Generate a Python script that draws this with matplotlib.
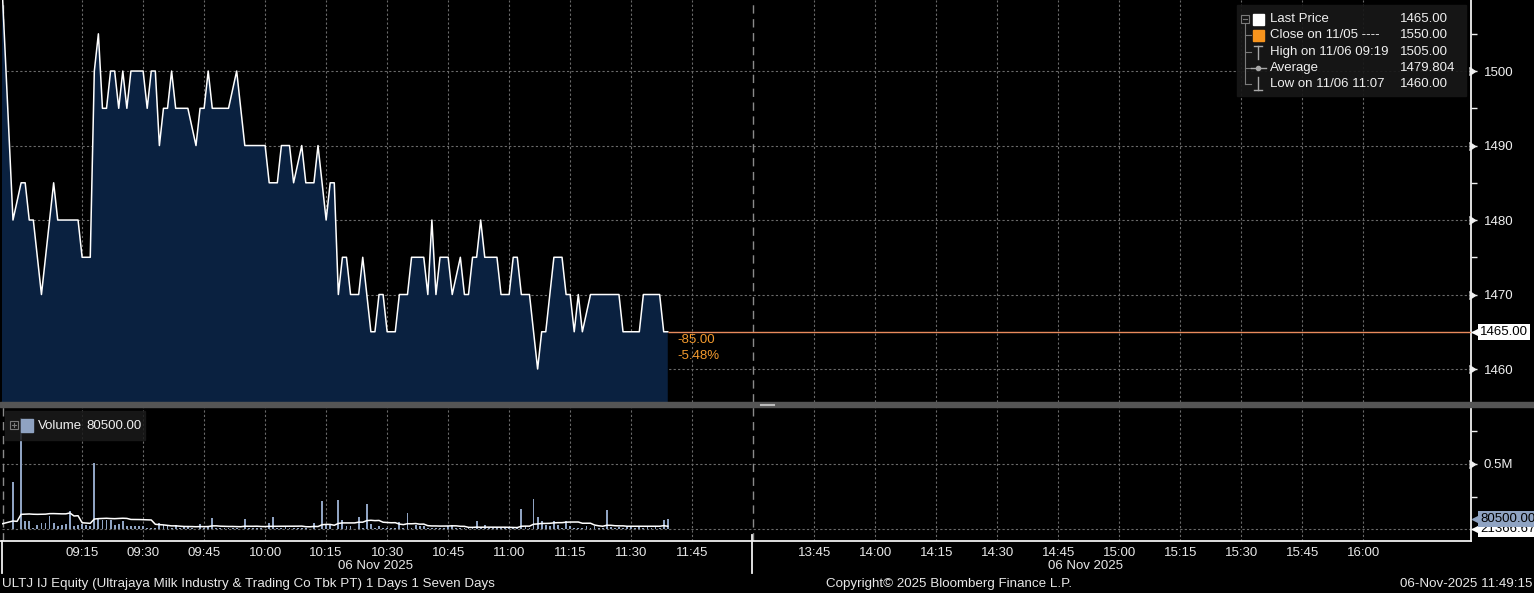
import numpy as np
import matplotlib
matplotlib.use("Agg")
import matplotlib.pyplot as plt
import matplotlib.transforms as mtransforms
from matplotlib.lines import Line2D
from matplotlib.patches import Rectangle

plt.rcParams['font.family'] = ['Liberation Sans', 'DejaVu Sans']

# ---- data ----
prev_close = 1550.0
prev_close_time = "08:52"
avg_price = 1479.804

price_times = [
    "08:58", "09:00", "09:01", "09:02", "09:03", "09:05", "09:08", "09:09", "09:14", "09:15",
    "09:17", "09:18", "09:19", "09:20", "09:21", "09:22", "09:23", "09:24", "09:25", "09:26",
    "09:27", "09:30", "09:31", "09:32", "09:33", "09:34", "09:35", "09:36", "09:37", "09:38",
    "09:41", "09:43", "09:44", "09:45", "09:46", "09:47", "09:51", "09:53", "09:55", "10:00",
    "10:01", "10:03", "10:04", "10:06", "10:07", "10:09", "10:10", "10:12", "10:13", "10:15",
    "10:16", "10:17", "10:18", "10:19", "10:20", "10:21", "10:23", "10:24", "10:26", "10:27",
    "10:28", "10:29", "10:30", "10:32", "10:33", "10:35", "10:36", "10:39", "10:40", "10:41",
    "10:42", "10:43", "10:45", "10:46", "10:48", "10:49", "10:50", "10:51", "10:52", "10:53",
    "10:54", "10:57", "10:58", "11:00", "11:01", "11:02", "11:03", "11:05", "11:07", "11:08",
    "11:09", "11:11", "11:13", "11:14", "11:15", "11:16", "11:17", "11:18", "11:20", "11:27",
    "11:28", "11:32", "11:33", "11:37", "11:38", "11:39",
]
price_values = [
    1480, 1485, 1485, 1480, 1480, 1470, 1485, 1480, 1480, 1475,
    1475, 1500, 1505, 1495, 1495, 1500, 1500, 1495, 1500, 1495,
    1500, 1500, 1495, 1500, 1500, 1490, 1495, 1495, 1500, 1495,
    1495, 1490, 1495, 1495, 1500, 1495, 1495, 1500, 1490, 1490,
    1485, 1485, 1490, 1490, 1485, 1490, 1485, 1485, 1490, 1480,
    1485, 1485, 1470, 1475, 1475, 1470, 1470, 1475, 1465, 1465,
    1470, 1470, 1465, 1465, 1470, 1470, 1475, 1475, 1470, 1480,
    1470, 1475, 1475, 1470, 1475, 1470, 1470, 1475, 1475, 1480,
    1475, 1475, 1470, 1470, 1475, 1475, 1470, 1470, 1460, 1465,
    1465, 1475, 1475, 1470, 1470, 1465, 1470, 1465, 1470, 1470,
    1465, 1465, 1470, 1470, 1465, 1465,
]

# one bar per minute starting at vol_start
vol_start = "08:58"
volumes = [
    365000, 0, 850000, 60000, 60000, 10000, 30000, 50000, 50000, 100000,
    45000, 20000, 30000, 40000, 140000, 20000, 30000, 40000, 30000, 20000,
    505000, 80000, 70000, 70000, 70000, 30000, 40000, 60000, 20000, 20000,
    20000, 20000, 20000, 10000, 10000, 5000, 50000, 30000, 20000, 10000,
    30000, 10000, 20000, 20000, 10000, 0, 40000, 10000, 20000, 87000,
    10000, 10000, 10000, 10000, 10000, 10000, 0, 77000, 10000, 10000,
    10000, 10000, 0, 45000, 95000, 10000, 10000, 20000, 10000, 10000,
    10000, 10000, 10000, 0, 50000, 0, 215000, 40000, 40000, 0,
    220000, 70000, 20000, 20000, 0, 95000, 10000, 190000, 40000, 10000,
    20000, 10000, 10000, 10000, 10000, 55000, 10000, 125000, 10000, 30000,
    20000, 20000, 10000, 5000, 10000, 5000, 10000, 20000, 30000, 5000,
    5000, 5000, 10000, 5000, 60000, 5000, 30000, 5000, 10000, 5000,
    10000, 5000, 5000, 5000, 5000, 155000, 20000, 5000, 230000, 95000,
    60000, 30000, 20000, 60000, 30000, 10000, 60000, 20000, 5000, 10000,
    10000, 20000, 10000, 20000, 10000, 5000, 146000, 15000, 10000, 15000,
    10000, 15000, 20000, 10000, 15000, 10000, 15000, 10000, 15000, 10000,
    70000, 80500,
]
prev_avg_volume = 40000
sma_window = 15

x_tick_labels = ["09:15", "09:30", "09:45", "10:00", "10:15", "10:30", "10:45", "11:00",
                 "11:15", "11:30", "11:45", "13:45", "14:00", "14:15", "14:30", "14:45",
                 "15:00", "15:15", "15:30", "15:45", "16:00"]
price_ticks = [1460, 1470, 1480, 1490, 1500]
price_minor = [1465, 1475, 1485, 1495, 1505]
vol_ticks = [0, 500000]
vol_minor = [250000, 750000]

LUNCH_START = "12:00"
LUNCH_MIN = 90


def to_x(hhmm):
    """Minutes after 09:00 with the lunch break cut out."""
    h, m = map(int, hhmm.split(":"))
    t = h * 60 + m - 9 * 60
    if t >= 3 * 60 + LUNCH_MIN:
        t -= LUNCH_MIN
    return t


W, H = 1534, 593
fig = plt.figure(figsize=(W / 100, H / 100), dpi=100, facecolor="black")


def fx(px):
    return px / W


def fy(py):
    return 1 - py / H


GRID = dict(color="#6a6a6a", linestyle=(0, (2, 2)), linewidth=0.8)
WHITE = "#f0f0f0"
x_min, x_max = -4.7, 356.5
break_x = to_x(LUNCH_START)
tick_x = [to_x(t) for t in x_tick_labels]

ax_p = fig.add_axes([fx(2), fy(402), fx(1469), 402 / H])
ax_v = fig.add_axes([fx(2), fy(541), fx(1469), (541 - 407) / H])

for ax in (ax_p, ax_v):
    ax.set_facecolor("black")
    ax.set_xlim(x_min, x_max)
    for s in ("top", "left", "bottom"):
        ax.spines[s].set_visible(False)
    ax.spines["right"].set_color(WHITE)
    ax.spines["right"].set_linewidth(1.3)
    ax.set_xticks(tick_x)
    ax.xaxis.grid(True, **GRID)
    ax.yaxis.grid(True, **GRID)
    ax.set_axisbelow(True)
    ax.yaxis.tick_right()
    ax.tick_params(axis="y", which="major", length=4, width=1, colors=WHITE,
                   labelsize=9.5, pad=5)
    ax.tick_params(axis="y", which="minor", length=4, width=1, colors=WHITE)
    ax.axvline(break_x, color="#8a8a8a", linestyle=(0, (6, 4)), linewidth=1)
    ax.axvline(x_min + 0.2, color="#8a8a8a", linestyle=(0, (6, 4)), linewidth=1)

# ---- price panel ----
px_all = [to_x(prev_close_time)] + [to_x(t) for t in price_times]
py_all = [prev_close] + price_values
ax_p.set_ylim(1455.57, 1509.54)
ax_p.fill_between(px_all, py_all, 1400, color="#0a2140", linewidth=0, zorder=2)
ax_p.plot(px_all, py_all, color="white", linewidth=1.1, zorder=3)
ax_p.set_yticks(price_ticks)
ax_p.set_yticks(price_minor, minor=True)
ax_p.set_yticklabels([str(v) for v in price_ticks])
ax_p.tick_params(axis="x", length=0, labelbottom=False)

last_price = price_values[-1]
last_x = to_x(price_times[-1])
ax_p.hlines(last_price, last_x, x_max, color="#e88a5c", linewidth=1, zorder=3)
change = last_price - prev_close
ax_p.annotate(f"{change:.2f}", (last_x, last_price), xytext=(10, -8),
              textcoords="offset pixels", color="#f39a2e", fontsize=9.5,
              ha="left", va="center")
ax_p.annotate(f"{change / prev_close * 100:.2f}%", (last_x, last_price), xytext=(10, -24),
              textcoords="offset pixels", color="#f39a2e", fontsize=9.5,
              ha="left", va="center")

# ---- volume panel ----
vol = np.array(volumes, dtype=float)
vx = to_x(vol_start) + np.arange(len(vol))
padded = np.concatenate([np.full(sma_window - 1, prev_avg_volume), vol])
sma = np.convolve(padded, np.ones(sma_window) / sma_window, mode="valid")

ax_v.set_ylim(-92000, 938000)
ax_v.bar(vx, vol, width=0.45, color="#8fa3c2", linewidth=0, zorder=2)
ax_v.plot(np.concatenate([[x_min], vx]), np.concatenate([[prev_avg_volume], sma]),
          color="white", linewidth=1.1, zorder=3)
ax_v.set_yticks(vol_ticks)
ax_v.set_yticks(vol_minor, minor=True)
ax_v.set_yticklabels(["", "0.5M"])
ax_v.set_xticklabels(x_tick_labels)
ax_v.tick_params(axis="x", length=0, pad=4, labelsize=9.5, colors="#e8e8e8")

# triangle markers on the major right-axis ticks
for ax, ticks in ((ax_p, price_ticks), (ax_v, vol_ticks[1:])):
    tr = mtransforms.blended_transform_factory(ax.transAxes, ax.transData)
    tr = tr + mtransforms.ScaledTranslation(0.04, 0, fig.dpi_scale_trans)
    ax.plot(np.ones(len(ticks)), ticks, linestyle="none", marker=5, ms=6,
            color=WHITE, transform=tr, clip_on=False)


def value_tag(ax, y, text, fc, z):
    tr = mtransforms.blended_transform_factory(ax.transAxes, ax.transData)
    ax.plot([1.0], [y], marker="<", ms=8, color=fc, linestyle="none", zorder=z,
            transform=tr + mtransforms.ScaledTranslation(0.07, 0, fig.dpi_scale_trans),
            clip_on=False)
    ax.text(1.0, y, text, transform=tr + mtransforms.ScaledTranslation(0.09, 0, fig.dpi_scale_trans),
            ha="left", va="center", fontsize=9.5, color="black", zorder=z, clip_on=False,
            bbox=dict(boxstyle="square,pad=0.15", fc=fc, ec="none"))


value_tag(ax_p, last_price, f"{last_price:.2f}", "white", 5)
value_tag(ax_v, sma[-1] - 20000, f"{sma[-1]:.2f}", "white", 5)
value_tag(ax_v, vol[-1], f"{vol[-1]:.2f}", "#8fa3c2", 6)

# ---- figure furniture ----
fig.add_artist(Rectangle((0, fy(406.5)), 1, 4.5 / H, transform=fig.transFigure,
                         color="#555555", zorder=4))
for yy in (403.8, 405.4):
    fig.add_artist(Line2D([fx(760), fx(774)], [fy(yy)] * 2, color="#bbbbbb", lw=0.8, zorder=5))

fig.add_artist(Line2D([0, fx(1471)], [fy(541)] * 2, color=WHITE, lw=1.3))
for xx, y0 in ((2, 541), (752, 535)):
    fig.add_artist(Line2D([fx(xx)] * 2, [fy(y0), fy(573)], color=WHITE, lw=1.3))

for xx in (375, 1085):
    fig.text(fx(xx), fy(566), "06 Nov 2025", color="#e8e8e8", fontsize=9.5,
             ha="center", va="center")

fig.text(fx(2), fy(584), "ULTJ IJ Equity (Ultrajaya Milk Industry & Trading Co Tbk PT) 1 Days 1 Seven Days",
         color="#e8e8e8", fontsize=9.6, ha="left", va="center")
fig.text(fx(826), fy(584), "Copyright\u00a9 2025 Bloomberg Finance L.P.", color="#e8e8e8",
         fontsize=9.6, ha="left", va="center")
fig.text(fx(1532), fy(584), "06-Nov-2025 11:49:15", color="#e8e8e8", fontsize=9.6,
         ha="right", va="center")

# price legend
session_vals = np.array(price_values)
i_hi = int(np.argmax(session_vals))
i_lo = int(np.argmin(session_vals))
legend_labels = ["Last Price", "Close on 11/05 ----", f"High on 11/06 {price_times[i_hi]}",
                 "Average", f"Low on 11/06 {price_times[i_lo]}"]
legend_values = [f"{last_price:.2f}", f"{prev_close:.2f}", f"{session_vals[i_hi]:.2f}",
                 f"{avg_price:.3f}", f"{session_vals[i_lo]:.2f}"]
rows_y = [19, 35, 52, 68, 84]

fig.add_artist(Rectangle((fx(1237), fy(96)), fx(229), 91 / H, transform=fig.transFigure,
                         color="#171717", alpha=0.92, zorder=6))
tree = "#7a7a7a"
fig.add_artist(Rectangle((fx(1241), fy(23)), fx(8), 8 / H, transform=fig.transFigure,
                         fill=False, ec=tree, lw=0.8, zorder=7))
fig.add_artist(Line2D([fx(1243), fx(1247)], [fy(19)] * 2, color=tree, lw=0.8, zorder=7))
fig.add_artist(Line2D([fx(1245)] * 2, [fy(24), fy(84)], color=tree, lw=0.8, zorder=7))
for ry in rows_y[1:]:
    fig.add_artist(Line2D([fx(1245), fx(1251)], [fy(ry)] * 2, color=tree, lw=0.8, zorder=7))

fig.add_artist(Rectangle((fx(1253), fy(25)), fx(11), 11 / H, transform=fig.transFigure,
                         color="white", zorder=7))
fig.add_artist(Rectangle((fx(1253), fy(41)), fx(11), 11 / H, transform=fig.transFigure,
                         color="#f7941d", zorder=7))
icon = "#a8a8a8"
fig.add_artist(Line2D([fx(1254), fx(1262)], [fy(46)] * 2, color=icon, lw=1, zorder=7))
fig.add_artist(Line2D([fx(1258)] * 2, [fy(46), fy(59)], color=icon, lw=1, zorder=7))
fig.add_artist(Line2D([fx(1251), fx(1266)], [fy(68)] * 2, color=icon, lw=1, zorder=7))
fig.add_artist(Line2D([fx(1258)], [fy(68)], color=icon, marker="o", ms=3, zorder=7))
fig.add_artist(Line2D([fx(1258)] * 2, [fy(77), fy(90)], color=icon, lw=1, zorder=7))
fig.add_artist(Line2D([fx(1254), fx(1262)], [fy(90)] * 2, color=icon, lw=1, zorder=7))

for ry, lab, val in zip(rows_y, legend_labels, legend_values):
    fig.text(fx(1270), fy(ry), lab, color="#f0f0f0", fontsize=9.5, ha="left",
             va="center", zorder=8)
    fig.text(fx(1400), fy(ry), val, color="#f0f0f0", fontsize=9.5, ha="left",
             va="center", zorder=8)

# volume legend
fig.add_artist(Rectangle((fx(5), fy(440)), fx(140), 29 / H, transform=fig.transFigure,
                         color="#1a1a1a", alpha=0.85, zorder=6))
fig.add_artist(Rectangle((fx(10), fy(429)), fx(8), 8 / H, transform=fig.transFigure,
                         fill=False, ec=tree, lw=0.8, zorder=7))
fig.add_artist(Line2D([fx(12), fx(16)], [fy(425)] * 2, color=tree, lw=0.8, zorder=7))
fig.add_artist(Line2D([fx(14)] * 2, [fy(423), fy(427)], color=tree, lw=0.8, zorder=7))
fig.add_artist(Rectangle((fx(21), fy(432)), fx(12), 13 / H, transform=fig.transFigure,
                         color="#8fa3c2", zorder=7))
fig.text(fx(38), fy(426), "Volume", color="#f0f0f0", fontsize=9.5, ha="left", va="center", zorder=8)
fig.text(fx(86), fy(426), f"{vol[-1]:.2f}", color="#f0f0f0", fontsize=9.5, ha="left",
         va="center", zorder=8)

fig.savefig("out.png", dpi=100, facecolor="black")
